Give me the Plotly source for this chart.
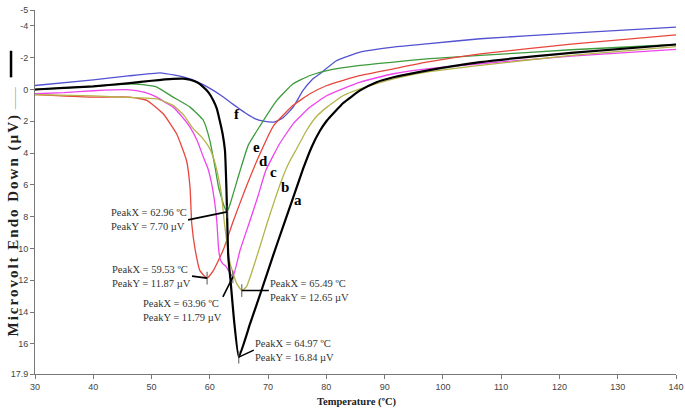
import plotly.graph_objects as go

# ---- data ----
T_a = [30, 35, 40, 46.3, 50, 53.7, 55.5, 56.6, 57.8, 58.9, 59.8, 60.6, 61.2, 61.7, 62.2, 62.6, 62.86, 63.17, 63.55, 64.15, 64.97,
       66.9, 68.9, 70.9, 72.6, 74.3, 76.0, 77.5, 78.9, 80.1, 82.9, 85.8, 88.6, 91.5, 97.2, 106.4, 122, 140]
y_a = [0.0, -0.1, -0.2, -0.4, -0.55, -0.67, -0.68, -0.61, -0.45, -0.15, 0.2, 0.69, 1.2, 1.95, 2.8, 3.84, 6.35, 10.55, 12.0, 14.5, 16.84,
       14.75, 12.6, 10.4, 8.6, 6.8, 5.0, 3.6, 2.6, 1.95, 0.85, 0.06, -0.46, -0.77, -1.19, -1.72, -2.3, -2.83]

T_b = [30, 40, 46, 50.9, 53.7, 55.5, 57, 58.6, 59.8, 60.6, 61.4, 62.0, 62.5, 63.0, 63.5, 64.6, 65.49, 66.3, 67.2, 68.5, 69.8,
       71.0, 72.3, 73.6, 74.9, 76.6, 78.3, 80.1, 82.9, 85.8, 91.5, 97.2, 106.4, 122, 140]
y_b = [0.33, 0.4, 0.5, 0.59, 1.0, 1.6, 2.4, 3.0, 3.6, 4.26, 5.4, 6.6, 8.4, 9.8, 10.96, 12.2, 12.65, 12.4, 11.5, 10.0, 8.45,
       7.1, 5.72, 4.6, 3.73, 2.58, 1.7, 1.11, 0.38, -0.04, -0.67, -1.09, -1.51, -2.15, -2.7]

T_c = [30, 35, 40, 46.3, 49, 50.9, 52.5, 53.7, 55.2, 56.6, 57.8, 58.9, 59.7, 60.3, 60.8, 61.2, 61.5, 61.8, 62.2, 62.8, 63.3, 63.96,
       65.2, 66.9, 68.3, 69.6, 72.0, 74.3, 77.2, 80.1, 85.8, 91.5, 97.2, 106.4, 122, 140]
y_c = [0.27, 0.2, 0.08, 0.02, 0.2, 0.48, 0.85, 1.11, 1.7, 2.37, 3.2, 4.26, 5.0, 5.9, 7.0, 8.3, 10.0, 10.7, 10.95, 11.15, 11.45, 11.79,
       10.1, 8.24, 6.67, 5.1, 3.4, 2.16, 1.11, 0.38, -0.46, -0.99, -1.3, -1.62, -2.1, -2.52]

T_d = [30, 39.4, 46.3, 49.2, 52.0, 54.3, 56.0, 56.6, 56.9, 57.5, 58.3, 59.53, 60.6, 62.3, 64.0, 66.0, 68.3, 70.9, 74.3, 77.2,
       80.1, 85.8, 91.5, 97.2, 106.4, 122, 140]
y_d = [0.33, 0.48, 0.48, 0.69, 1.53, 2.79, 4.47, 6.14, 8.45, 10.1, 11.4, 11.87, 11.4, 10.1, 8.3, 6.35, 4.3, 2.3, 1.0, 0.27,
       -0.25, -0.88, -1.3, -1.72, -2.24, -2.85, -3.44]

T_e = [30, 40, 46.3, 48.5, 50.9, 53.7, 56.6, 58.9, 60.0, 60.9, 61.5, 62.0, 62.5, 62.96, 63.5, 65.2, 66.6, 68.6, 71.5, 74.3,
       77.2, 80.1, 85.8, 91.5, 97.2, 106.4, 122, 140]
y_e = [0.0, -0.2, -0.36, -0.3, -0.15, 0.48, 1.11, 1.95, 3.2, 4.89, 6.14, 6.8, 7.4, 7.7, 7.19, 5.1, 3.5, 2.3, 0.69, -0.36,
       -0.88, -1.19, -1.51, -1.72, -1.93, -2.14, -2.5, -2.83]

T_f = [30, 40, 46, 51.5, 54, 56.6, 58.6, 60.6, 62, 63.5, 65, 66.3, 67.8, 69.2, 71.0, 72.5, 74.3, 76.0, 77.5, 78.9, 81.8, 85.8,
       91.5, 97.2, 106.4, 122, 140]
y_f = [-0.25, -0.6, -0.85, -1.05, -0.9, -0.67, -0.35, 0.06, 0.4, 0.8, 1.2, 1.53, 1.85, 1.99, 2.05, 1.8, 1.11, 0.06, -0.6, -0.99,
       -1.82, -2.35, -2.66, -2.87, -3.19, -3.55, -3.92]

curve_names = ["a", "b", "c", "d", "e", "f"]
curve_colors = ["#000000", "#b3b34a", "#ee44ee", "#e8463c", "#3d9a3d", "#5252d2"]

peak_x = [62.96, 59.53, 63.96, 65.49, 64.97]
peak_y = [7.70, 11.87, 11.79, 12.65, 16.84]

x_ticks = [30, 40, 50, 60, 70, 80, 90, 100, 110, 120, 130, 140]
y_ticks = [-5, -4, -2, 0, 2, 4, 6, 8, 10, 12, 14, 16, 17.9]
y_tick_text = ["-5", "-4", "-2", "0", "2", "4", "6", "8", "10", "12", "14", "16", "17.9"]

# curve letter label positions (data units)
label_T = [75.2, 72.9, 70.9, 69.2, 68.05, 64.6]
label_y = [6.98, 6.14, 5.2, 4.47, 3.63, 1.53]

series = {
    "a": (T_a, y_a), "b": (T_b, y_b), "c": (T_c, y_c),
    "d": (T_d, y_d), "e": (T_e, y_e), "f": (T_f, y_f),
}

fig = go.Figure()
draw_order = ["f", "e", "d", "c", "b", "a"]
for name in draw_order:
    i = curve_names.index(name)
    xs, ys = series[name]
    fig.add_trace(go.Scatter(
        x=xs, y=ys, mode="lines", name=name,
        line=dict(color=curve_colors[i], width=2.2 if name == "a" else 1.3, shape="spline", smoothing=0.4),
        showlegend=False, hoverinfo="skip"))

# peak tick marks
tx, ty = [], []
for px_, py_ in zip(peak_x, peak_y):
    tx += [px_, px_, None]
    ty += [py_ - 0.4, py_ + 0.4, None]
fig.add_trace(go.Scatter(x=tx, y=ty, mode="lines", line=dict(color="#555555", width=1),
                         showlegend=False, hoverinfo="skip"))

serif = "Liberation Serif, Times New Roman, serif"

# peak annotations: (ax, ay, xanchor, yanchor)
ann_style = [(-39, 8, "right", "middle"),
             (-15, -2, "right", "middle"),
             (-10, 20, "right", "top"),
             (27, 0, "left", "middle"),
             (15, -7, "left", "middle")]
for (pxv, pyv), (ax, ay, xa, ya) in zip(zip(peak_x, peak_y), ann_style):
    fig.add_annotation(
        x=pxv, y=pyv, xref="x", yref="y",
        text=f"PeakX = {pxv:.2f} ºC<br>PeakY = {pyv:.2f} µV",
        showarrow=True, arrowhead=0, arrowwidth=1.6, arrowcolor="#000000",
        ax=ax, ay=ay, xanchor=xa, yanchor=ya, align="left",
        font=dict(family=serif, size=10.5, color="#333333"),
        borderpad=0, standoff=0)

for name, lt, ly in zip(curve_names, label_T, label_y):
    fig.add_annotation(x=lt, y=ly, xref="x", yref="y", text=f"<b>{name}</b>", showarrow=False,
                       font=dict(family=serif, size=15, color="#000000"))

# y-axis title with its line marks
fig.add_annotation(x=-0.0343, y=0.4466, xref="paper", yref="paper", textangle=-90,
                   xanchor="center", yanchor="middle",
                   text="<span style='letter-spacing:2px'><b>Microvolt Endo Down (µV)</b></span> "
                        "<span style='color:#888;font-size:11px'>——</span>",
                   showarrow=False, font=dict(family=serif, size=15, color="#222222"))
fig.add_shape(type="line", xref="paper", yref="paper", x0=-0.0374, x1=-0.0374, y0=0.815, y1=0.888,
              line=dict(color="#000000", width=2.5))
# x-axis title
fig.add_annotation(x=0.5023, y=-0.078, xref="paper", yref="paper", xanchor="center", yanchor="middle",
                   text="<b>Temperature (ºC)</b>", showarrow=False,
                   font=dict(family=serif, size=10.5, color="#222222"))

tick_font = dict(family="Liberation Sans Narrow, Arial Narrow, Liberation Sans, Arial, sans-serif", size=9, color="#444444")
fig.update_layout(
    width=685, height=411,
    margin=dict(l=35, r=9, t=9.5, b=37.4, autoexpand=False),
    paper_bgcolor="white", plot_bgcolor="white",
    xaxis=dict(range=[30, 140], tickvals=x_ticks, ticks="outside", ticklen=4, tickcolor="#777777",
               showline=True, linecolor="#777777", linewidth=1, showgrid=False, zeroline=False,
               tickfont=tick_font, automargin=False),
    yaxis=dict(range=[17.9, -5], tickvals=y_ticks, ticktext=y_tick_text, ticks="outside", ticklen=4,
               tickcolor="#777777", showline=True, linecolor="#777777", linewidth=1, showgrid=False,
               zeroline=False, tickfont=tick_font, automargin=False),
)

fig.write_html("out.html", config={"displayModeBar": False},
               post_script="document.body.style.margin='0px';")
